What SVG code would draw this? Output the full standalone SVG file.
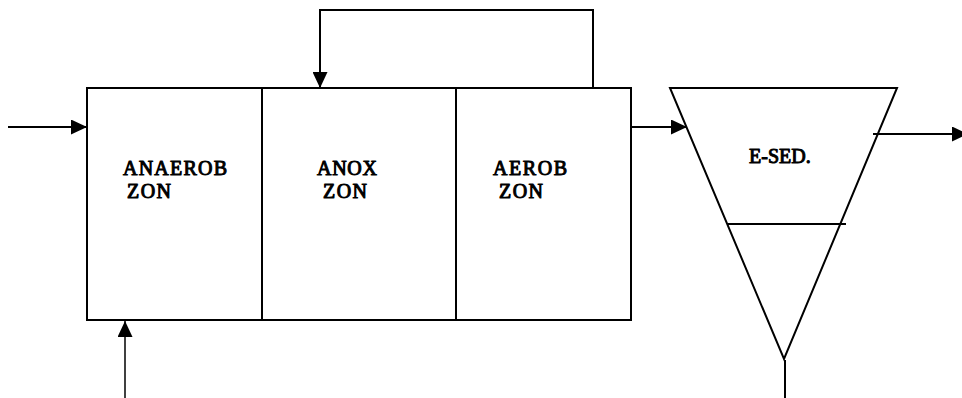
<svg xmlns="http://www.w3.org/2000/svg" width="962" height="398" viewBox="0 0 962 398">
<style>
.ln{fill:none;stroke:#000;stroke-width:2}
.thin{fill:none;stroke:#000;stroke-width:1.5}
text{font-family:'Liberation Serif','Times New Roman',serif;font-size:20px;fill:#000;stroke:#000;stroke-width:1;stroke-linejoin:round}
</style>
<defs>
<marker id="ah" markerWidth="16" markerHeight="15" refX="16" refY="7.5" orient="auto" markerUnits="userSpaceOnUse">
<path d="M0,0 L16,7.5 L0,15 Z" fill="#000"/>
</marker>
</defs>
<rect width="962" height="398" fill="#fff"/>
<g id="anaerob">
<rect class="ln" x="87" y="88" width="175" height="232"/>
<text x="123" y="175" textLength="104" lengthAdjust="spacing">ANAEROB</text>
<text x="127" y="198" textLength="44" lengthAdjust="spacing">ZON</text>
</g>
<g id="anox">
<rect class="ln" x="262" y="88" width="194" height="232"/>
<text x="317" y="175" textLength="60" lengthAdjust="spacing">ANOX</text>
<text x="323" y="198" textLength="44" lengthAdjust="spacing">ZON</text>
</g>
<g id="aerob">
<rect class="ln" x="456" y="88" width="175" height="232"/>
<text x="493" y="175" textLength="74" lengthAdjust="spacing">AEROB</text>
<text x="499" y="198" textLength="44" lengthAdjust="spacing">ZON</text>
</g>
<g id="esed">
<path class="ln" d="M670,88 L897,88 L784,359 Z"/>
<line class="ln" x1="728" y1="224" x2="846" y2="224"/>
<text x="749" y="163">E-SED.</text>
</g>
<g id="connectors">
<line class="ln" x1="8" y1="127" x2="87" y2="127" marker-end="url(#ah)"/>
<polyline class="ln" points="593,88 593,10 320,10 320,88" marker-end="url(#ah)"/>
<line class="ln" x1="631" y1="127" x2="687" y2="127" marker-end="url(#ah)"/>
<line class="ln" x1="873" y1="134" x2="968" y2="134" marker-end="url(#ah)"/>
<line class="thin" x1="125" y1="398" x2="125" y2="321" marker-end="url(#ah)"/>
<line class="ln" x1="785" y1="360" x2="785" y2="398"/>
</g>
</svg>
